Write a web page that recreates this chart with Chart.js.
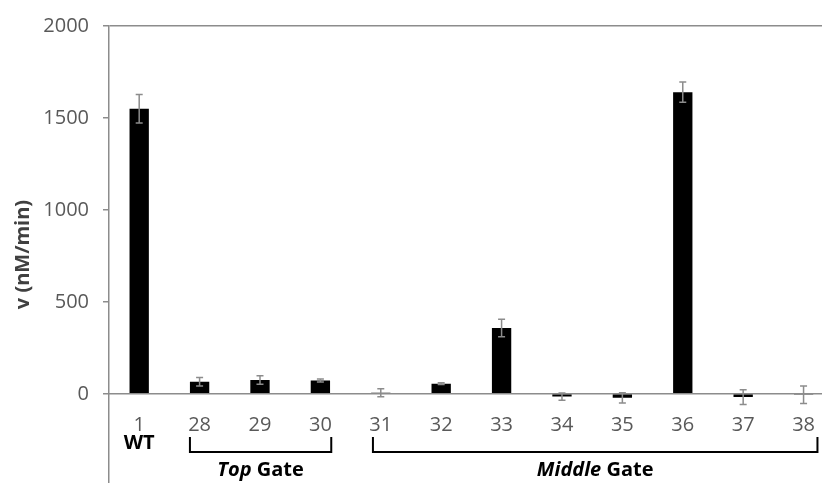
<!DOCTYPE html>
<html>
<head>
<meta charset="utf-8">
<script src="https://cdn.jsdelivr.net/npm/chart.js@4/dist/chart.umd.min.js"></script>
<style>
  html, body { margin: 0; padding: 0; background: #fff; overflow: hidden; }
  #wrap { position: relative; width: 834px; height: 509px; }
</style>
</head>
<body>
<div id="wrap"><canvas id="c"></canvas></div>
<script>
// ---- data ----
const categories = ['1', '28', '29', '30', '31', '32', '33', '34', '35', '36', '37', '38'];
const rates = [1550, 65, 75, 72, 6, 55, 358, -15, -22, 1640, -18, -5];
const rateErrors = [78, 23, 23, 8, 22, 5, 48, 20, 28, 55, 40, 48];
const yTickValues = [0, 500, 1000, 1500, 2000];
const wtLabel = 'WT';
const groupNames = [['Top', ' Gate'], ['Middle', ' Gate']];
const groupFirst = ['28', '31'];
const groupLast = ['30', '38'];

Chart.defaults.font.family = "'Open Sans', 'Noto Sans', sans-serif";

const errorBarPlugin = {
  id: 'errorBars',
  afterDatasetsDraw(chart) {
    const meta = chart.getDatasetMeta(0);
    const y = chart.scales.y;
    const ctx = chart.ctx;
    ctx.save();
    ctx.strokeStyle = '#8c8c8c';
    ctx.lineWidth = 1.5;
    meta.data.forEach((bar, i) => {
      const v = rates[i], e = rateErrors[i];
      const yt = y.getPixelForValue(v + e);
      const yb = y.getPixelForValue(v - e);
      const x = bar.x;
      const cap = 3.5;
      ctx.beginPath();
      ctx.moveTo(x, yt); ctx.lineTo(x, yb);
      ctx.moveTo(x - cap, yt); ctx.lineTo(x + cap, yt);
      ctx.moveTo(x - cap, yb); ctx.lineTo(x + cap, yb);
      ctx.stroke();
    });
    ctx.restore();
  }
};

const groupPlugin = {
  id: 'groups',
  afterDraw(chart) {
    const xs = chart.scales.x;
    const ctx = chart.ctx;
    const step = xs.getPixelForValue(1) - xs.getPixelForValue(0);
    ctx.save();
    ctx.fillStyle = '#000';
    ctx.font = "bold 20px 'Open Sans', sans-serif";
    ctx.textAlign = 'center';
    ctx.textBaseline = 'middle';
    ctx.fillText(wtLabel, xs.getPixelForValue(0), 443);
    const padsL = [0.16, 0.13];
    const padsR = [0.18, 0.23];
    ctx.strokeStyle = '#000';
    ctx.lineWidth = 2;
    groupNames.forEach((g, i) => {
      const x0 = xs.getPixelForValue(categories.indexOf(groupFirst[i])) - padsL[i] * step;
      const x1 = xs.getPixelForValue(categories.indexOf(groupLast[i])) + padsR[i] * step;
      ctx.beginPath();
      ctx.moveTo(x0, 437); ctx.lineTo(x0, 452); ctx.lineTo(x1, 452); ctx.lineTo(x1, 437);
      ctx.stroke();
      const fItal = "italic bold 20px 'Open Sans', sans-serif";
      const fBold = "bold 20px 'Open Sans', sans-serif";
      ctx.font = fItal; const w1 = ctx.measureText(g[0]).width;
      ctx.font = fBold; const w2 = ctx.measureText(g[1]).width;
      let sx = (x0 + x1) / 2 - (w1 + w2) / 2;
      ctx.textAlign = 'left';
      ctx.font = fItal; ctx.fillText(g[0], sx, 470);
      ctx.font = fBold; ctx.fillText(g[1], sx + w1, 470);
    });
    ctx.restore();
  }
};

new Chart(document.getElementById('c'), {
  type: 'bar',
  data: {
    labels: categories,
    datasets: [{
      data: rates,
      backgroundColor: '#000',
      borderWidth: 0,
      barPercentage: 0.32,
      categoryPercentage: 1.0
    }]
  },
  options: {
    responsive: true,
    maintainAspectRatio: false,
    animation: false,
    events: [],
    layout: { padding: { top: 23, right: 0, bottom: 0, left: 0 } },
    plugins: { legend: { display: false }, tooltip: { enabled: false } },
    scales: {
      x: {
        position: { y: 0 },
        offset: true,
        afterFit(scale) { scale.height = 0; },
        grid: { display: false, drawTicks: false },
        border: { display: true, color: '#8c8c8c', width: 1.5 },
        ticks: { color: '#595959', font: { size: 20 }, padding: 19, maxRotation: 0, autoSkip: false }
      },
      y: {
        min: -485,
        max: 2000,
        afterBuildTicks(scale) { scale.ticks = yTickValues.map(v => ({ value: v })); },
        afterFit(scale) { scale.width = 109; },
        grid: {
          drawOnChartArea: true,
          color: (c) => (c.tick && c.tick.value === 2000 ? '#8c8c8c' : 'rgba(0,0,0,0)'),
          lineWidth: 1.5,
          tickColor: '#8c8c8c',
          tickLength: 6,
          tickWidth: 1.5
        },
        border: { display: true, color: '#8c8c8c', width: 1.5 },
        ticks: { color: '#595959', font: { size: 20 }, padding: 14, callback: (v) => String(v) },
        title: {
          display: true,
          text: 'v (nM/min)',
          color: '#404040',
          font: { size: 20, weight: 'bold' },
          padding: { top: 11, bottom: 0 }
        }
      }
    }
  },
  plugins: [errorBarPlugin, groupPlugin]
});
</script>
</body>
</html>
